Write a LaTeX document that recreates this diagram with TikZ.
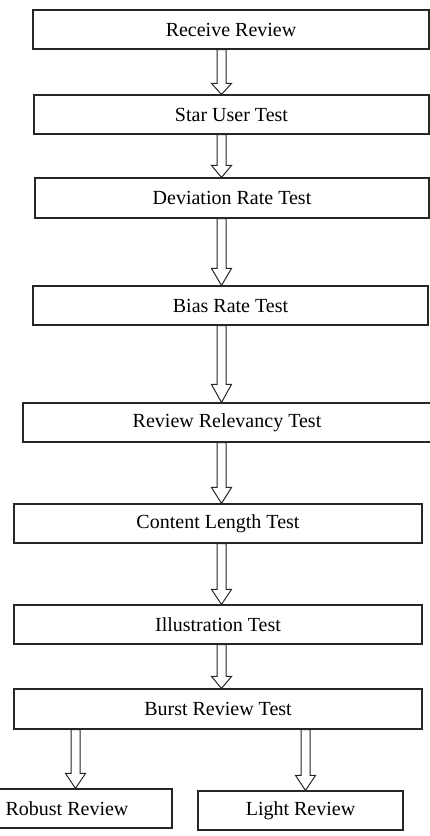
\documentclass[tikz,border=0pt]{standalone}
\usepackage{fontspec}
\setmainfont{Liberation Serif}
\usetikzlibrary{calc}

\tikzset{
  stage/.style={draw=black!85, line width=1.1pt, rectangle, inner sep=0pt,
    minimum height=39pt, font=\fontsize{20}{24}\selectfont},
  hollow/.style={draw=black!85, line width=1pt, fill=white, line join=miter}
}

% Hollow block arrow from the bottom of #1 to the top of #2,
% centred on x = #3, head length #4
\newcommand\blockarrow[4]{%
  \path[hollow] let \p1=(#1.south), \p2=(#2.north) in
    (#3-4.5pt,\y1) -- (#3+4.5pt,\y1) -- (#3+4.5pt,\y2+#4pt) -- (#3+10pt,\y2+#4pt)
    -- (#3pt,\y2) -- (#3-10pt,\y2+#4pt) -- (#3-4.5pt,\y2+#4pt) -- cycle;}

\begin{document}
\begin{tikzpicture}[x=1pt, y=-1pt]
  \useasboundingbox (0,0) rectangle (430,836);

  \node[stage, minimum width=396pt] (receive)   at (231,29.5)  {Receive Review};
  \node[stage, minimum width=395pt] (star)      at (231.5,114.5) {Star User Test};
  \node[stage, minimum width=394pt, minimum height=40pt] (deviation) at (232,198) {Deviation Rate Test};
  \node[stage, minimum width=395pt] (bias)      at (230.5,305.5) {Bias Rate Test};
  \node[stage, minimum width=408pt] (relevancy) at (227,422.5) {Review Relevancy Test};
  \node[stage, minimum width=408pt] (length)    at (218,523.5) {Content Length Test};
  \node[stage, minimum width=408pt] (illus)     at (218,624.5) {Illustration Test};
  \node[stage, minimum width=408pt, minimum height=40pt] (burst) at (218,709) {Burst Review Test};
  \node[stage, minimum width=210pt] (robust)    at (67,808.5)  {Robust Review};
  \node[stage, minimum width=205pt] (light)     at (300.5,810.5) {Light Review};

  \blockarrow{receive}{star}{221.5}{11}
  \blockarrow{star}{deviation}{221.5}{12}
  \blockarrow{deviation}{bias}{221.5}{17}
  \blockarrow{bias}{relevancy}{221.5}{18}
  \blockarrow{relevancy}{length}{221.5}{16}
  \blockarrow{length}{illus}{221.5}{15}
  \blockarrow{illus}{burst}{221.5}{12}
  \blockarrow{burst}{robust}{75.5}{15}
  \blockarrow{burst}{light}{305.5}{15}
\end{tikzpicture}
\end{document}
